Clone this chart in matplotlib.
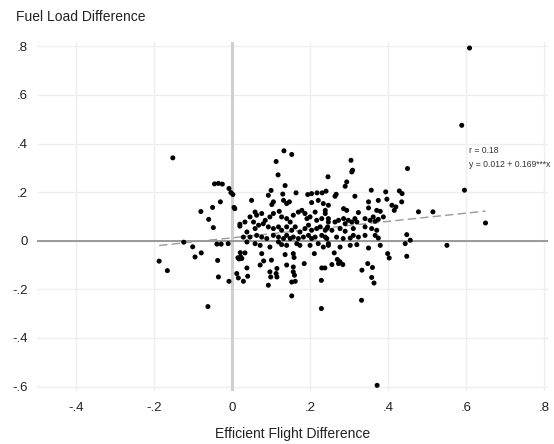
import matplotlib
matplotlib.use("Agg")
import matplotlib.pyplot as plt
import numpy as np

plt.rcParams['font.family'] = ['Liberation Sans', 'DejaVu Sans']

# ---- data ----
# dense core, left part
core_left_x = [0.050, 0.106, 0.102, 0.132, 0.140, 0.147, 0.204, 0.221, 0.234, 0.247,
               0.059, 0.063, 0.046, 0.076, 0.085, 0.080, 0.097, 0.106, 0.121, 0.127,
               0.140, 0.149, 0.157, 0.170, 0.179, 0.187, 0.192, 0.200, 0.213, 0.217,
               0.230, 0.239, 0.247, 0.033, 0.055, 0.068, 0.059, 0.038, 0.093, 0.106,
               0.119, 0.127, 0.140, 0.153, 0.162, 0.174, 0.187, 0.196, 0.204, 0.217,
               0.226, 0.239, 0.245, 0.029, 0.046, 0.063, 0.076, 0.089, 0.106, 0.119,
               0.132, 0.140, 0.149, 0.157, 0.170, 0.183, 0.196, 0.204, 0.213, 0.230,
               0.243, 0.038, 0.059, 0.072, 0.097, 0.119, 0.127, 0.140, 0.166, 0.174,
               0.200, 0.221, 0.234, 0.247]
core_left_y = [0.166, 0.160, 0.149, 0.166, 0.153, 0.160, 0.157, 0.166, 0.153, 0.146,
               0.118, 0.105, 0.098, 0.112, 0.084, 0.070, 0.098, 0.112, 0.121, 0.098,
               0.091, 0.077, 0.105, 0.118, 0.125, 0.112, 0.091, 0.098, 0.118, 0.084,
               0.091, 0.112, 0.077, 0.077, 0.077, 0.064, 0.050, 0.036, 0.057, 0.050,
               0.057, 0.043, 0.057, 0.043, 0.057, 0.036, 0.050, 0.064, 0.043, 0.050,
               0.057, 0.043, 0.057, 0.015, 0.015, 0.022, 0.015, 0.009, 0.022, 0.015,
               0.009, 0.022, 0.009, 0.015, 0.009, 0.015, 0.022, 0.009, 0.015, 0.022,
               0.009, -0.005, -0.012, -0.019, -0.026, -0.005, -0.016, -0.019, -0.012, -0.019,
               -0.019, -0.012, -0.026, -0.012]

# dense core, right part
core_right_x = [0.264, 0.315, 0.350, 0.375, 0.397, 0.435, 0.239, 0.286, 0.294, 0.324,
                0.350, 0.371, 0.380, 0.410, 0.416, 0.420, 0.247, 0.264, 0.273, 0.286,
                0.290, 0.298, 0.307, 0.315, 0.320, 0.341, 0.354, 0.362, 0.367, 0.375,
                0.388, 0.243, 0.256, 0.277, 0.290, 0.311, 0.341, 0.358, 0.371, 0.239,
                0.268, 0.285, 0.303, 0.311, 0.324, 0.341, 0.367, 0.375, 0.448, 0.247,
                0.277, 0.303, 0.320, 0.350, 0.380, 0.444, 0.457]
core_right_y = [0.183, 0.183, 0.160, 0.166, 0.171, 0.160, 0.125, 0.132, 0.125, 0.116,
                0.135, 0.125, 0.121, 0.146, 0.125, 0.139, 0.091, 0.077, 0.084, 0.091,
                0.070, 0.084, 0.077, 0.091, 0.077, 0.091, 0.084, 0.098, 0.080, 0.088,
                0.098, 0.050, 0.043, 0.050, 0.039, 0.050, 0.057, 0.050, 0.043, 0.015,
                0.015, 0.009, 0.011, 0.022, 0.015, 0.022, 0.022, 0.011, 0.025, -0.019,
                -0.026, -0.019, -0.016, -0.030, -0.019, -0.012, 0.002]

# surrounding points
outer_x = [-0.152, -0.045, -0.035, -0.025, -0.008, -0.003, 0.002, -0.030, -0.050, -0.080,
           0.005, 0.007, -0.060, -0.048, 0.020, 0.020, -0.124, -0.101, -0.039, -0.028,
           -0.010, -0.079, -0.095, -0.187, -0.166, -0.037, 0.021, 0.033, 0.015, 0.022,
           0.018, 0.025, 0.038, -0.035, -0.008, 0.012, 0.016, 0.029, 0.040, 0.162,
           0.153, 0.229, 0.229, 0.332, -0.062, 0.372, 0.133, 0.153, 0.113, 0.118,
           0.246, 0.136, 0.100, 0.093, 0.130, 0.164, 0.194, 0.204, 0.218, 0.231,
           0.241, 0.076, 0.081, 0.072, 0.101, 0.136, 0.140, 0.115, 0.097, 0.099,
           0.113, 0.115, 0.093, 0.157, 0.159, 0.157, 0.157, 0.160, 0.153, 0.185,
           0.230, 0.238, 0.211, 0.305, 0.309, 0.307, 0.294, 0.290, 0.450, 0.267,
           0.357, 0.394, 0.429, 0.436, 0.478, 0.262, 0.270, 0.277, 0.284, 0.273,
           0.256, 0.333, 0.348, 0.360, 0.358, 0.364, 0.399, 0.403, 0.448, 0.609,
           0.589, 0.596, 0.650, 0.551, 0.515]
outer_y = [0.341, 0.234, 0.236, 0.233, 0.215, 0.198, 0.190, 0.160, 0.137, 0.120,
           0.137, 0.132, 0.088, 0.054, 0.068, 0.060, -0.006, -0.025, -0.014, -0.014,
           -0.012, -0.050, -0.067, -0.084, -0.123, -0.081, -0.049, -0.050, -0.070, -0.066,
           -0.075, -0.073, -0.112, -0.149, -0.167, -0.135, -0.153, -0.167, -0.146, -0.167,
           -0.227, -0.163, -0.279, -0.245, -0.271, -0.595, 0.370, 0.355, 0.326, 0.271,
           0.263, 0.227, 0.207, 0.187, 0.192, 0.197, 0.190, 0.194, 0.197, 0.197,
           0.204, -0.053, -0.083, -0.100, -0.080, -0.057, -0.100, -0.114, -0.128, -0.149,
           -0.135, -0.149, -0.183, -0.053, -0.069, -0.108, -0.128, -0.142, -0.170, -0.094,
           -0.112, -0.112, -0.053, 0.331, 0.290, 0.283, 0.242, 0.224, 0.297, 0.191,
           0.208, 0.201, 0.205, 0.194, 0.119, -0.050, -0.077, -0.087, -0.098, -0.094,
           -0.098, -0.121, -0.094, -0.110, -0.151, -0.174, -0.053, -0.071, -0.064, 0.793,
           0.475, 0.208, 0.073, -0.019, 0.119]

fit_intercept = 0.012
fit_slope = 0.169
fit_label = ["r = 0.18", "y = 0.012 + 0.169***x"]

x_ticks = [-0.4, -0.2, 0, 0.2, 0.4, 0.6, 0.8]
x_tick_labels = ["-.4", "-.2", "0", ".2", ".4", ".6", ".8"]
y_ticks = [-0.6, -0.4, -0.2, 0, 0.2, 0.4, 0.6, 0.8]
y_tick_labels = ["-.6", "-.4", "-.2", "0", ".2", ".4", ".6", ".8"]

x_all = np.array(core_left_x + core_right_x + outer_x)
y_all = np.array(core_left_y + core_right_y + outer_y)

# ---- figure ----
fig = plt.figure(figsize=(5.54, 4.44), dpi=100)
ax = fig.add_axes([0.067, 0.119, 0.922, 0.786])
ax.set_xlim(-0.5, 0.81)
ax.set_ylim(-0.619, 0.817)

for s in ax.spines.values():
    s.set_visible(False)

ax.set_xticks(x_ticks)
ax.set_xticklabels(x_tick_labels)
ax.set_yticks(y_ticks)
ax.set_yticklabels(y_tick_labels)
ax.tick_params(length=0, labelsize=9.5, colors='#222222')
ax.tick_params(axis='y', pad=7)
ax.tick_params(axis='x', pad=8)
ax.grid(True, color='#eeeeee', lw=1.0, zorder=0)
ax.set_axisbelow(True)

ax.axvline(0, color='#cfcfcf', lw=2.2, zorder=1)
ax.axhline(0, color='#8a8a8a', lw=1.2, zorder=1)

ax.scatter(x_all, y_all, s=13, color='black', edgecolors='none', zorder=3)

xf = np.array([x_all.min(), x_all.max()])
ax.plot(xf, fit_intercept + fit_slope * xf, color='#9a9a9a', lw=1.0,
        dashes=(6, 3), zorder=2)

ax.text(0.608, 0.37, fit_label[0], fontsize=6.2, color='#333333',
        va='center', ha='left', clip_on=False)
ax.text(0.608, 0.315, fit_label[1], fontsize=6.2, color='#333333',
        va='center', ha='left', clip_on=False)

ax.set_xlabel("Efficient Flight Difference", fontsize=10, color='#222222',
              labelpad=9)
fig.text(16 / 554, 1 - 17 / 444, "Fuel Load Difference", fontsize=10,
         color='#222222', ha='left', va='center')

fig.savefig("out.png", dpi=100)
